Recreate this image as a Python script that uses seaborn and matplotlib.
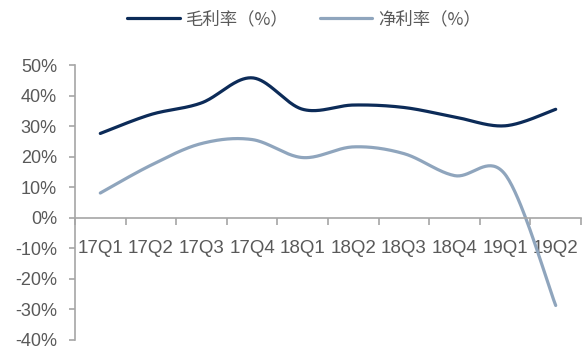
import numpy as np
import pandas as pd
import matplotlib
matplotlib.use("Agg")
import matplotlib.pyplot as plt
from matplotlib.lines import Line2D
from matplotlib.ticker import FixedLocator, FuncFormatter
import seaborn as sns

# ---- data ----
quarters = ["17Q1", "17Q2", "17Q3", "17Q4", "18Q1", "18Q2", "18Q3", "18Q4", "19Q1", "19Q2"]
gross_margin = [27.6, 33.8, 37.6, 45.8, 35.5, 36.9, 36.1, 33.0, 30.1, 35.5]
net_margin = [8.1, 17.2, 24.3, 25.6, 19.7, 23.2, 21.0, 13.8, 14.2, -28.7]
series_names = ["毛利率（%）", "净利率（%）"]
y_ticks = [-40, -30, -20, -10, 0, 10, 20, 30, 40, 50]

colors = ["#0c2b58", "#8fa5bd"]
text_color = "#595959"
axis_color = "#a6a6a6"


def smooth(xs, ys, n=40):
    """Excel-style smoothed line (Catmull-Rom as cubic Bezier)."""
    P = np.column_stack([xs, ys]).astype(float)
    ext = np.vstack([P[0], P, P[-1]])
    out = []
    t = np.linspace(0, 1, n)[:, None]
    for i in range(len(P) - 1):
        p0, p1, p2, p3 = ext[i], ext[i + 1], ext[i + 2], ext[i + 3]
        b1 = p1 + (p2 - p0) / 6.0
        b2 = p2 - (p3 - p1) / 6.0
        seg = ((1 - t) ** 3) * p1 + 3 * ((1 - t) ** 2) * t * b1 + 3 * (1 - t) * t ** 2 * b2 + t ** 3 * p2
        out.append(seg if i == 0 else seg[1:])
    return np.vstack(out)


xpos = np.arange(len(quarters))
frames = []
for name, vals in zip(series_names, [gross_margin, net_margin]):
    c = smooth(xpos, vals)
    frames.append(pd.DataFrame({"x": c[:, 0], "y": c[:, 1], "series": name}))
df = pd.concat(frames, ignore_index=True)

sns.set_style("white")
plt.rcParams["font.family"] = ["Liberation Sans", "Noto Sans CJK SC", "DejaVu Sans"]

fig = plt.figure(figsize=(5.88, 3.49), dpi=100)
ax = fig.add_axes([75 / 588, 1 - 340 / 349, (581 - 75) / 588, (340 - 65) / 349])

sns.lineplot(data=df, x="x", y="y", hue="series", palette=dict(zip(series_names, colors)),
             sort=False, estimator=None, legend=False, linewidth=2.3, ax=ax)

ax.set_xlim(-0.5, len(quarters) - 0.5)
ax.set_ylim(-40, 50)
ax.set_xlabel("")
ax.set_ylabel("")

for s in ["top", "right"]:
    ax.spines[s].set_visible(False)
ax.spines["bottom"].set_position(("data", 0))
for s in ["left", "bottom"]:
    ax.spines[s].set_color(axis_color)
    ax.spines[s].set_linewidth(1.2)

ax.set_yticks(y_ticks)
ax.yaxis.set_major_formatter(FuncFormatter(lambda v, p: f"{int(v)}%"))
ax.tick_params(axis="y", which="major", left=True, length=4, width=1.2, color=axis_color,
               labelsize=13, labelcolor=text_color, pad=9)

ax.set_xticks(xpos)
ax.set_xticklabels(quarters)
ax.xaxis.set_minor_locator(FixedLocator(np.arange(-0.5, len(quarters), 1.0)))
ax.tick_params(axis="x", which="major", bottom=True, length=0, labelsize=13.5,
               labelcolor=text_color, pad=16)
ax.tick_params(axis="x", which="minor", bottom=True, length=5, width=1.2, color=axis_color)
ax.grid(False)

handles = [Line2D([0], [0], color=c, lw=2.3) for c in colors]
fig.legend(handles, series_names, loc="center", bbox_to_anchor=(304 / 588, 1 - 19 / 349),
           ncol=2, frameon=False, handlelength=3.0, handletextpad=0.35,
           columnspacing=1.8, labelcolor=text_color,
           prop={"family": ["Noto Sans CJK SC", "DejaVu Sans"], "size": 12.5})

fig.savefig("out.png", dpi=100)
